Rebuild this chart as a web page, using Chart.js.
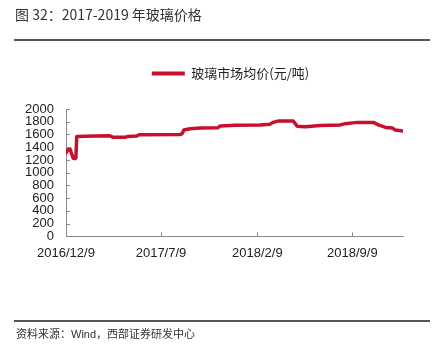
<!DOCTYPE html>
<html><head><meta charset="utf-8">
<script src="https://cdn.jsdelivr.net/npm/chart.js@4/dist/chart.umd.min.js"></script>
<style>
html,body{margin:0;padding:0;background:#fff;}
#wrap{position:relative;width:436px;height:361px;overflow:hidden;background:#fff;}
#c{position:absolute;left:0;top:0;}
.title{position:absolute;left:15px;top:4px;font-family:"Noto Sans CJK SC";font-size:14px;line-height:20px;color:#333;white-space:nowrap;}
.rule{position:absolute;left:14px;width:416px;height:1.5px;background:#555;}
.src{position:absolute;left:16px;top:325px;font-family:"Noto Sans CJK SC";font-size:11px;line-height:16px;color:#333;white-space:nowrap;}
.src .en{font-family:"Liberation Sans";}
</style></head>
<body>
<div id="wrap">
<canvas id="c" width="436" height="361"></canvas>
<div class="title">图 32：2017-2019 年玻璃价格</div>
<div class="rule" style="top:39px"></div>
<div class="rule" style="top:320px"></div>
<div class="src">资料来源：<span class="en">Wind</span>，西部证券研发中心</div>
</div>
<script>
const seriesName = '玻璃市场均价(元/吨)';
const dates = ['2016/12/9','2016/12/13','2016/12/18','2016/12/22','2016/12/25','2016/12/29','2016/12/31',
 '2017/1/2','2017/2/11','2017/3/17','2017/3/24','2017/4/20','2017/4/26','2017/5/16','2017/5/21',
 '2017/8/20','2017/8/25','2017/8/29','2017/9/12','2017/10/5','2017/11/13','2017/11/18','2017/12/21',
 '2018/2/15','2018/3/9','2018/3/16','2018/3/27','2018/4/30','2018/5/9','2018/5/27','2018/6/29',
 '2018/8/13','2018/8/24','2018/9/20','2018/10/26','2018/11/6','2018/11/22','2018/12/7','2018/12/14','2018/12/31'];
const prices = [1310,1360,1370,1290,1230,1220,1230,
 1570,1575,1580,1555,1555,1570,1575,1595,
 1600,1610,1670,1690,1700,1705,1735,1745,
 1750,1760,1790,1810,1810,1730,1720,1740,
 1750,1770,1790,1790,1750,1710,1700,1670,1655];
const tickLabels = ['2016/12/9','2017/7/9','2018/2/9','2018/9/9'];
const yTicks = [0,200,400,600,800,1000,1200,1400,1600,1800,2000];

function dayNum(s){const p=s.split('/').map(Number);return Date.UTC(p[0],p[1]-1,p[2])/86400000;}
const base = dayNum(dates[0]);
const points = dates.map((d,i)=>({x:dayNum(d)-base,y:prices[i]}));
const RED = '#C8102E';
const AXIS = '#8a8a8a';

const innerTicks = {
  id:'innerTicks',
  beforeLayout(chart){
    const lg = chart.legend;
    if(lg && !lg._patched){
      const f = lg.fit;
      lg.fit = function(){ f.call(this); this.height += 19; };
      lg._patched = true;
    }
  },
  afterLayout(chart){
    const lg = chart.legend;
    if(lg){ lg.left += 21; lg.right += 21; }
  },
  afterDraw(chart){
    const ctx = chart.ctx, a = chart.chartArea;
    const xs = chart.scales.x, ys = chart.scales.y;
    ctx.save();
    ctx.strokeStyle = AXIS; ctx.lineWidth = 1;
    ctx.beginPath();
    ys.ticks.forEach(t=>{const y=Math.round(ys.getPixelForValue(t.value))+0.5;ctx.moveTo(a.left,y);ctx.lineTo(a.left+4,y);});
    xs.ticks.forEach(t=>{const x=Math.round(xs.getPixelForValue(t.value))+0.5;ctx.moveTo(x,a.bottom);ctx.lineTo(x,a.bottom-4);});
    ctx.stroke();
    ctx.restore();
  }
};

new Chart(document.getElementById('c'),{
  type:'line',
  data:{datasets:[{label:seriesName,data:points,borderColor:RED,backgroundColor:RED,borderWidth:3.5,
    pointRadius:0,tension:0,fill:false,borderJoinStyle:'round',borderCapStyle:'round'}]},
  options:{
    responsive:false,animation:false,
    layout:{padding:{left:16,right:33,top:57,bottom:91}},
    plugins:{
      tooltip:{enabled:false},
      legend:{display:true,position:'top',
        labels:{boxWidth:33,boxHeight:4,padding:10,color:'#222',
          font:{family:'"Noto Sans CJK SC"',size:13},
          generateLabels(chart){
            return Chart.defaults.plugins.legend.labels.generateLabels(chart).map(it=>{it.lineWidth=0;return it;});
          }}}
    },
    scales:{
      x:{type:'linear',min:0,max:points[points.length-1].x,
        afterBuildTicks(s){s.ticks=tickLabels.map(l=>({value:dayNum(l)-base}));},
        ticks:{autoSkip:false,maxRotation:0,minRotation:0,padding:9,color:'#222',
          font:{family:'"Liberation Sans"',size:13},
          callback(v,i){return tickLabels[i];}},
        grid:{display:false,drawTicks:false},
        border:{display:true,color:AXIS,width:1}},
      y:{min:0,max:2000,
        afterFit(s){s.width=50;},
        afterBuildTicks(s){s.ticks=yTicks.map(v=>({value:v}));},
        ticks:{autoSkip:false,padding:12,color:'#222',font:{family:'"Liberation Sans"',size:13},
          callback(v){return String(v);}},
        grid:{display:false,drawTicks:false},
        border:{display:true,color:AXIS,width:1}}
    }
  },
  plugins:[innerTicks]
});
</script>
</body></html>
